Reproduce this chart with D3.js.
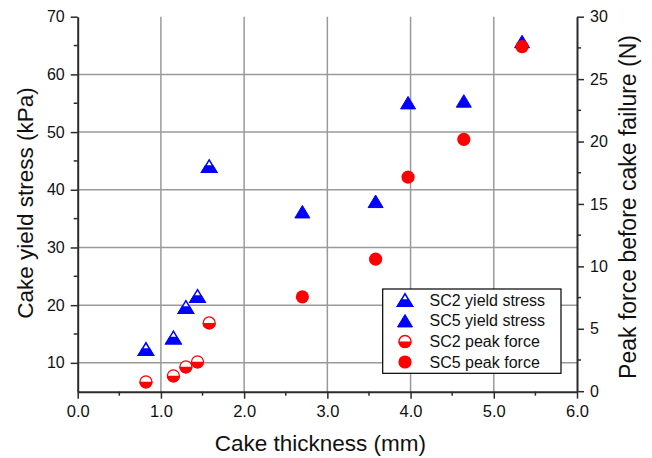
<!DOCTYPE html>
<html>
<head>
<meta charset="utf-8">
<script src="https://cdn.jsdelivr.net/npm/d3@7"></script>
<style>
  html, body { margin: 0; padding: 0; background: #fff; }
  svg { display: block; font-family: Arial, "Liberation Sans", sans-serif; }
</style>
</head>
<body>
<svg id="chart" width="652" height="458"></svg>
<script>
// ---- data ----
const sc2Thickness = [0.82, 1.15, 1.30, 1.44, 1.58];
const sc2YieldStress = [12.4, 14.4, 19.7, 21.6, 44.1];
const sc2PeakForce = [0.75, 1.23, 1.95, 2.35, 5.47];

const sc5Thickness = [2.70, 3.58, 3.97, 4.64, 5.34];
const sc5YieldStress = [36.2, 38.0, 55.1, 55.4, 65.7];
const sc5PeakForce = [7.56, 10.58, 17.15, 20.17, 27.6];

const xTicks = [0, 1, 2, 3, 4, 5, 6];
const yLeftTicks = [10, 20, 30, 40, 50, 60, 70];
const yRightTicks = [0, 5, 10, 15, 20, 25, 30];
const legendLabels = ["SC2 yield stress", "SC5 yield stress", "SC2 peak force", "SC5 peak force"];

// ---- layout ----
const svg = d3.select("#chart");
const pL = 77.7, pR = 577, pT = 16.7, pB = 391.7;
const x = d3.scaleLinear().domain([0, 6]).range([pL, pR]);
const yL = d3.scaleLinear().domain([5, 70]).range([pB, pT]);
const yR = d3.scaleLinear().domain([0, 30]).range([pB - 0.5, pT]);

const axisColor = "#2b2b2b";
const gridColor = "#9a9a9a";
const blue = "#0000ff";
const red = "#ff0000";

// grid
const grid = svg.append("g");
[1, 2, 3, 4, 5].forEach(v => {
  grid.append("line").attr("x1", x(v)).attr("x2", x(v)).attr("y1", pT).attr("y2", pB)
    .attr("stroke", gridColor).attr("stroke-width", 1.5);
});
[10, 20, 30, 40, 50, 60].forEach(v => {
  grid.append("line").attr("x1", pL).attr("x2", pR).attr("y1", yL(v)).attr("y2", yL(v))
    .attr("stroke", gridColor).attr("stroke-width", 1.5);
});

// axes
function styleAxis(g) {
  g.selectAll(".domain").attr("stroke", axisColor).attr("stroke-width", 2);
  g.selectAll(".tick line").attr("stroke", axisColor).attr("stroke-width", 1.5);
  g.selectAll(".tick text").attr("fill", "#111").style("font-size", "16px")
    .style("font-family", "Arial, 'Liberation Sans', sans-serif");
}
// minor ticks
const gMinor = svg.append("g");
d3.range(0.5, 6, 1).forEach(v => {
  gMinor.append("line").attr("x1", x(v)).attr("x2", x(v)).attr("y1", pB).attr("y2", pB + 4)
    .attr("stroke", axisColor).attr("stroke-width", 1.5);
});
d3.range(15, 70, 10).forEach(v => {
  gMinor.append("line").attr("x1", pL).attr("x2", pL - 4).attr("y1", yL(v)).attr("y2", yL(v))
    .attr("stroke", axisColor).attr("stroke-width", 1.5);
});
d3.range(2.5, 30, 5).forEach(v => {
  gMinor.append("line").attr("x1", pR).attr("x2", pR + 4).attr("y1", yR(v)).attr("y2", yR(v))
    .attr("stroke", axisColor).attr("stroke-width", 1.5);
});

const gx = svg.append("g").attr("transform", `translate(0,${pB})`)
  .call(d3.axisBottom(x).tickValues(xTicks).tickFormat(d3.format(".1f")).tickSizeInner(7).tickSizeOuter(0).tickPadding(7));
styleAxis(gx);
gx.selectAll(".tick text").style("font-size", "16.5px");

const gyl = svg.append("g").attr("transform", `translate(${pL},0)`)
  .call(d3.axisLeft(yL).tickValues(yLeftTicks).tickSizeInner(7).tickSizeOuter(0).tickPadding(6));
styleAxis(gyl);

const gyr = svg.append("g").attr("transform", `translate(${pR},0)`)
  .call(d3.axisRight(yR).tickValues(yRightTicks).tickSizeInner(7).tickSizeOuter(0).tickPadding(6));
styleAxis(gyr);

// axis titles
svg.append("text").attr("x", (pL + pR) / 2 - 7).attr("y", 451)
  .attr("text-anchor", "middle").style("font-size", "22.5px").attr("fill", "#111")
  .text("Cake thickness (mm)");
svg.append("text").attr("transform", `translate(33,203) rotate(-90)`)
  .attr("text-anchor", "middle").style("font-size", "22.5px").attr("fill", "#111")
  .text("Cake yield stress (kPa)");
svg.append("text").attr("transform", `translate(636,207) rotate(-90)`)
  .attr("text-anchor", "middle").style("font-size", "23px").attr("fill", "#111")
  .text("Peak force before cake failure (N)");

// markers
const TW = 15, TH = 12.5, CR = 6.6;
function triPath(cx, cy) {
  return `M${cx},${cy - TH / 2}L${cx + TW / 2},${cy + TH / 2}L${cx - TW / 2},${cy + TH / 2}Z`;
}
function drawTriangle(g, cx, cy, half) {
  if (half) {
    g.append("path").attr("d", triPath(cx, cy)).attr("fill", "#fff")
      .attr("stroke", blue).attr("stroke-width", 1.5).attr("stroke-linejoin", "miter");
    const hw = TW / 4;
    g.append("path")
      .attr("d", `M${cx - hw},${cy}L${cx + hw},${cy}L${cx + TW / 2},${cy + TH / 2}L${cx - TW / 2},${cy + TH / 2}Z`)
      .attr("fill", blue).attr("stroke", blue).attr("stroke-width", 1.5);
  } else {
    g.append("path").attr("d", triPath(cx, cy)).attr("fill", blue)
      .attr("stroke", blue).attr("stroke-width", 1);
  }
}
function drawCircle(g, cx, cy, half) {
  if (half) {
    g.append("circle").attr("cx", cx).attr("cy", cy).attr("r", CR - 0.6)
      .attr("fill", "#fff").attr("stroke", red).attr("stroke-width", 1.3);
    const r = CR;
    g.append("path")
      .attr("d", `M${cx - r},${cy}A${r},${r} 0 0 0 ${cx + r},${cy}Z`)
      .attr("fill", red);
  } else {
    g.append("circle").attr("cx", cx).attr("cy", cy).attr("r", CR).attr("fill", red);
  }
}

const marks = svg.append("g");
sc2Thickness.forEach((t, i) => drawTriangle(marks, x(t), yL(sc2YieldStress[i]), true));
sc5Thickness.forEach((t, i) => drawTriangle(marks, x(t), yL(sc5YieldStress[i]), false));
sc2Thickness.forEach((t, i) => drawCircle(marks, x(t), yR(sc2PeakForce[i]), true));
sc5Thickness.forEach((t, i) => drawCircle(marks, x(t), yR(sc5PeakForce[i]), false));

// legend
const lg = svg.append("g");
lg.append("rect").attr("x", 382.7).attr("y", 289).attr("width", 178.3).attr("height", 84.3)
  .attr("fill", "#fff").attr("stroke", "#000").attr("stroke-width", 1.2);
const rowY = [300, 320.7, 341.5, 362];
legendLabels.forEach((lab, i) => {
  const cy = rowY[i];
  if (i === 0) drawTriangle(lg, 405, cy, true);
  if (i === 1) drawTriangle(lg, 405, cy, false);
  if (i === 2) drawCircle(lg, 405, cy, true);
  if (i === 3) drawCircle(lg, 405, cy, false);
  lg.append("text").attr("x", 429.5).attr("y", cy).attr("dy", "0.36em")
    .style("font-size", "16px").attr("fill", "#111").text(lab);
});
</script>
</body>
</html>
